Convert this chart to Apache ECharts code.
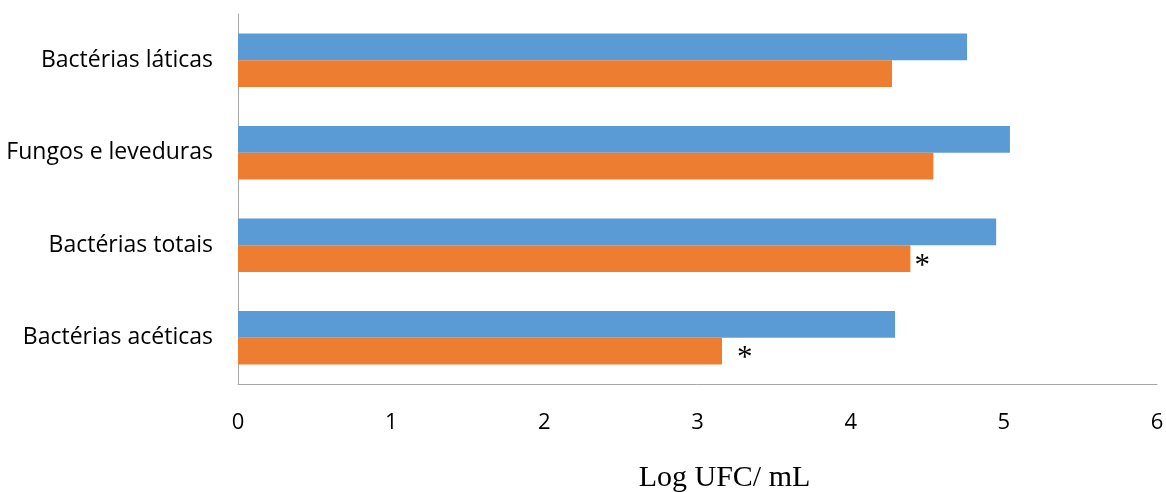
<!DOCTYPE html>
<html>
<head>
<meta charset="utf-8">
<script src="https://cdn.jsdelivr.net/npm/echarts@6/dist/echarts.min.js"></script>
<style>html,body{margin:0;padding:0;background:#fff}#c{width:1166px;height:492px}</style>
</head>
<body>
<div id="c"></div>
<script>
var categories = ['Bactérias láticas', 'Fungos e leveduras', 'Bactérias totais', 'Bactérias acéticas'];
var blueValues = [4.76, 5.04, 4.95, 4.29];
var orangeValues = [4.27, 4.54, 4.39, 3.16];
var orangeMarks = ['', '', '*', '*'];
var xAxisTitle = 'Log UFC/ mL';

var markDistance = [0, 0, 4, 15];
var orangeData = orangeValues.map(function (v, i) {
  if (!orangeMarks[i]) return v;
  return {
    value: v,
    label: {
      show: true, position: 'right', formatter: orangeMarks[i],
      distance: markDistance[i], offset: [0, 8],
      fontFamily: 'Liberation Serif', fontSize: 31, color: '#000'
    }
  };
});

var chart = echarts.init(document.getElementById('c'), null, {renderer: 'canvas'});
chart.setOption({
  animation: false,
  grid: {left: 238, right: 9, top: 14, bottom: 108, containLabel: false, outerBoundsMode: 'none'},
  xAxis: {
    type: 'value', min: 0, max: 6, interval: 1,
    axisLine: {show: true, onZero: false, lineStyle: {color: '#a6a6a6', width: 1}},
    axisTick: {show: false},
    splitLine: {show: false},
    axisLabel: {margin: 28, fontFamily: 'Open Sans', fontSize: 22, color: '#000'},
    name: xAxisTitle, nameLocation: 'middle', nameGap: 79,
    nameTextStyle: {fontFamily: 'Liberation Serif', fontSize: 30, color: '#000', padding: [0, 0, 0, 54]}
  },
  yAxis: {
    type: 'category', data: categories, inverse: true,
    axisLine: {show: true, onZero: false, lineStyle: {color: '#a6a6a6', width: 1}},
    axisTick: {show: false},
    axisLabel: {margin: 25, fontFamily: 'Open Sans', fontSize: 23, color: '#000'}
  },
  series: [
    {type: 'bar', data: blueValues, itemStyle: {color: '#5B9BD5'}, barGap: '0%', barCategoryGap: '42%'},
    {type: 'bar', data: orangeData, itemStyle: {color: '#ED7D31'}, barGap: '0%', barCategoryGap: '42%'}
  ]
});
</script>
</body>
</html>
